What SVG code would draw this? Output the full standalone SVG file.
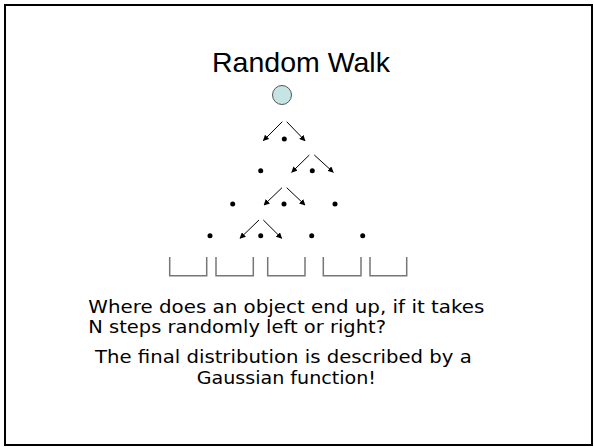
<svg xmlns="http://www.w3.org/2000/svg" width="594" height="447" viewBox="0 0 594 447">
<style>
.dot{fill:#000}
.arr{stroke:#000;stroke-width:1;fill:none;marker-end:url(#ah)}
.bin{stroke:#777;stroke-width:1.5;fill:none}
.body{font-family:"DejaVu Sans",Verdana,sans-serif;font-size:18px;fill:#000}
</style>
<defs>
<marker id="ah" viewBox="0 0 10 10" refX="9" refY="5" markerWidth="6" markerHeight="6" markerUnits="userSpaceOnUse" orient="auto">
<path d="M0,0 L10,5 L0,10 z" fill="#000"/>
</marker>
</defs>
<rect x="5" y="5" width="587" height="440" fill="#fff" stroke="#000" stroke-width="2"/>
<text x="301" y="71.5" text-anchor="middle" font-family="Liberation Sans,Arial,sans-serif" font-size="28.5">Random Walk</text>
<g id="start"><circle cx="282" cy="95" r="9.5" fill="#c6e4e4" stroke="#555" stroke-width="1"/></g>
<g id="dots">
<circle class="dot" cx="284.3" cy="139" r="2.5"/>
<circle class="dot" cx="260.7" cy="170.7" r="2.5"/>
<circle class="dot" cx="312.3" cy="170.7" r="2.5"/>
<circle class="dot" cx="232.7" cy="204" r="2.5"/>
<circle class="dot" cx="284" cy="204" r="2.5"/>
<circle class="dot" cx="335" cy="204" r="2.5"/>
<circle class="dot" cx="210" cy="235.7" r="2.5"/>
<circle class="dot" cx="260.7" cy="235.7" r="2.5"/>
<circle class="dot" cx="311.7" cy="235.7" r="2.5"/>
<circle class="dot" cx="362.7" cy="235.7" r="2.5"/>
</g>
<g id="connectors">
<line class="arr" x1="282.3" y1="121.7" x2="263.3" y2="140.7"/>
<line class="arr" x1="286.7" y1="121.7" x2="305" y2="140.7"/>
<line class="arr" x1="309.3" y1="155" x2="291.7" y2="172.3"/>
<line class="arr" x1="314.3" y1="155" x2="333.3" y2="172.3"/>
<line class="arr" x1="282" y1="187.7" x2="264" y2="205"/>
<line class="arr" x1="286.7" y1="187.7" x2="305" y2="205"/>
<line class="arr" x1="259" y1="220" x2="240" y2="238.3"/>
<line class="arr" x1="263.3" y1="220" x2="281.7" y2="238.3"/>
</g>
<g id="bins">
<path class="bin" d="M169.7,257 V275.7 H206.7 V257"/>
<path class="bin" d="M216,257 V275.7 H253.3 V257"/>
<path class="bin" d="M267.7,257 V275.7 H305 V257"/>
<path class="bin" d="M323.3,257 V275.7 H361 V257"/>
<path class="bin" d="M370,257 V275.7 H406.7 V257"/>
</g>
<g id="caption">
<text class="body" x="88.3" y="313.3" textLength="396" lengthAdjust="spacingAndGlyphs">Where does an object end up, if it takes</text>
<text class="body" x="88.3" y="333.3" textLength="297.7" lengthAdjust="spacingAndGlyphs">N steps randomly left or right?</text>
<text class="body" x="95" y="363.3" textLength="376.7" lengthAdjust="spacingAndGlyphs">The final distribution is described by a</text>
<text class="body" x="196.7" y="384" textLength="179.3" lengthAdjust="spacingAndGlyphs">Gaussian function!</text>
</g>
</svg>
